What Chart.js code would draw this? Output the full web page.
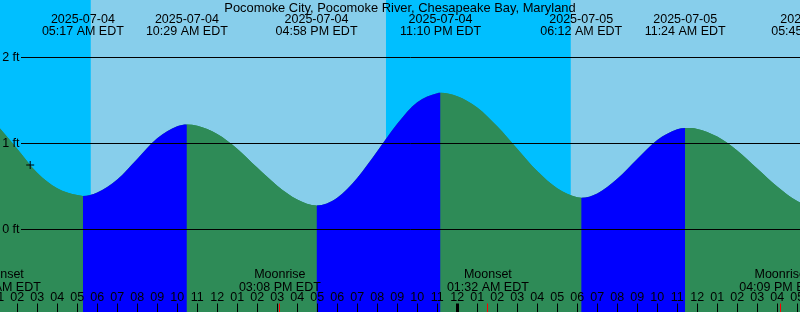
<!DOCTYPE html>
<html>
<head>
<meta charset="utf-8">
<title>Pocomoke City tides</title>
<script src="https://cdn.jsdelivr.net/npm/chart.js@4.4.1/dist/chart.umd.min.js"></script>
<style>
  html, body { margin: 0; padding: 0; background: #87ceeb; }
  canvas { display: block; background: #87ceeb; }
</style>
</head>
<body>
<canvas id="tide" width="800" height="312"></canvas>
<script>
// ---------------- Data (local time, EDT) ----------------
const station = "Pocomoke City, Pocomoke River, Chesapeake Bay, Maryland";

// high / low water
const extremeTimes = ["2025-07-04 05:17", "2025-07-04 10:29", "2025-07-04 16:58", "2025-07-04 23:10",
                      "2025-07-05 06:12", "2025-07-05 11:24", "2025-07-05 17:45"];
const extremeFeet = [0.39, 1.22, 0.28, 1.59, 0.37, 1.18, 0.27];

// curve, hours after 2025-07-04 00:00
const sampleHours = [0, 1, 2, 3, 4, 5, 6, 7, 8, 9, 10, 11, 12, 13, 14, 15, 16, 18, 19, 20,
                     21, 22, 23, 24, 25, 26, 27, 28, 29, 30, 31, 32, 33, 34, 35, 36, 37, 38, 39, 40, 41];
const sampleFeet = [1.45, 1.21, 0.94, 0.66, 0.48, 0.40, 0.43, 0.58, 0.82, 1.06, 1.20, 1.205, 1.11, 0.94, 0.72, 0.51, 0.35, 0.37, 0.60, 0.91,
                    1.23, 1.48, 1.585, 1.55, 1.42, 1.20, 0.94, 0.68, 0.48, 0.375, 0.42, 0.59, 0.82, 1.04, 1.165, 1.17, 1.08, 0.92, 0.71, 0.50, 0.33];

const sunsetTimes = ["2025-07-03 20:26", "2025-07-04 20:26"];
const sunriseTimes = ["2025-07-04 05:41", "2025-07-05 05:41"];

const moonEvents = ["Moonset", "Moonrise", "Moonset", "Moonrise"];
const moonTimes = ["2025-07-04 01:08", "2025-07-04 15:08", "2025-07-05 01:32", "2025-07-05 16:09"];

const nowTime = "2025-07-04 02:39";
const nowFeet = 0.75;

const levelTicks = [0, 1, 2];
const hourTicks = [1, 2, 3, 4, 5, 6, 7, 8, 9, 10, 11, 12, 13, 14, 15, 16, 17, 18, 19, 20, 21,
                   22, 23, 24, 25, 26, 27, 28, 29, 30, 31, 32, 33, 34, 35, 36, 37, 38, 39, 40, 41];

// ---------------- Helpers ----------------
const DAY0 = Date.UTC(2025, 6, 4);
const pad = n => String(n).padStart(2, "0");
const toHours = s => {
  const [d, t] = s.split(" ");
  const [Y, M, D] = d.split("-").map(Number);
  const [hh, mm] = t.split(":").map(Number);
  return (Date.UTC(Y, M - 1, D) - DAY0) / 3600000 + hh + mm / 60;
};
const clock = s => {
  const [hh, mm] = s.split(" ")[1].split(":").map(Number);
  return pad(hh % 12 || 12) + ":" + pad(mm) + (hh < 12 ? " AM" : " PM") + " EDT";
};

const W = 800, H = 312;
const xMin = 1.14, xMax = 41.14;          // 20 px per hour
const pxPerFoot = 86, zeroPx = 229.5;
const yMax = zeroPx / pxPerFoot, yMin = (zeroPx - H) / pxPerFoot;
const xAtPx = px => xMin + px * (xMax - xMin) / W;
const yAtPx = px => yMax - px / pxPerFoot;

const FONT = '"Liberation Sans", Arial, sans-serif';
const FONT_SIZE = 12.5;
const SKY_NIGHT = "#00bfff";
const RISING = "#0000ff";
const FALLING = "#2e8b57";

// center-positioned axes must not push the plot area inwards
const noPadding = s => {
  s.paddingLeft = s.paddingRight = s.paddingTop = s.paddingBottom = 0;
};

// ---------------- Datasets ----------------
const tidePoints = sampleHours.map((h, i) => ({ x: h, y: sampleFeet[i] }))
  .concat(extremeTimes.map((t, i) => ({ x: toHours(t), y: extremeFeet[i] })))
  .sort((a, b) => a.x - b.x);

const nights = sunriseTimes.map((t, i) => ({
  type: "line",
  order: 4,
  data: [{ x: toHours(sunsetTimes[i]), y: yMax }, { x: toHours(t), y: yMax }],
  borderColor: "rgba(0,0,0,0)",
  backgroundColor: SKY_NIGHT,
  fill: "start",
  pointRadius: 0
}));

const levelLines = levelTicks.map(v => ({
  type: "line",
  order: 0,
  data: [{ x: xAtPx(21), y: v }, { x: xMax, y: v }],
  borderColor: "#000",
  borderWidth: 1,
  pointRadius: 0,
  fill: false
}));

// rising water blue, falling water green
const tide = {
  type: "line",
  order: 2,
  data: tidePoints,
  cubicInterpolationMode: "monotone",
  borderColor: "rgba(0,0,0,0)",
  backgroundColor: FALLING,
  fill: "start",
  pointRadius: 0,
  segment: {
    backgroundColor: c => (c.p1.parsed.y >= c.p0.parsed.y ? RISING : FALLING)
  }
};

// same water body underneath, hides the seams where the colour flips
const tideUnder = {
  type: "line",
  order: 3,
  data: tidePoints,
  cubicInterpolationMode: "monotone",
  borderColor: "rgba(0,0,0,0)",
  backgroundColor: FALLING,
  fill: "start",
  pointRadius: 0
};

const nowMark = {
  type: "line",
  order: 0,
  data: [{ x: toHours(nowTime), y: nowFeet }],
  showLine: false,
  pointStyle: "cross",
  pointRadius: 4,
  borderColor: "#000",
  borderWidth: 1
};

// ---------------- Axes ----------------
const labelAxis = (yPx, lineHeight, ticksFn, labelFn) => ({
  type: "linear",
  axis: "x",
  min: xMin,
  max: xMax,
  position: { y: yAtPx(yPx) },
  grid: { display: false, drawTicks: false },
  border: { display: false },
  afterBuildTicks: s => { s.ticks = ticksFn().map(v => ({ value: v })); },
  afterFit: noPadding,
  ticks: {
    autoSkip: false,
    maxRotation: 0,
    padding: 0,
    color: "#000",
    z: 1,
    font: { family: FONT, size: FONT_SIZE, lineHeight: lineHeight },
    callback: labelFn
  }
});

const stationTitle = {
  id: "stationTitle",
  afterDraw(chart) {
    const ctx = chart.ctx;
    ctx.save();
    ctx.font = "12.9px " + FONT;
    ctx.fillStyle = "#000";
    ctx.textAlign = "center";
    ctx.textBaseline = "alphabetic";
    ctx.fillText(station, W / 2, 12);
    ctx.restore();
  }
};

new Chart(document.getElementById("tide"), {
  type: "line",
  data: { datasets: [...levelLines, nowMark, tide, tideUnder, ...nights] },
  options: {
    responsive: false,
    animation: false,
    devicePixelRatio: 1,
    events: [],
    layout: { padding: 0, autoPadding: false },
    plugins: {
      legend: { display: false },
      tooltip: { enabled: false }
    },
    scales: {
      x: { type: "linear", min: xMin, max: xMax, display: false },
      y: {
        type: "linear",
        min: yMin,
        max: yMax,
        position: { x: xAtPx(19.5) },
        grid: { display: false, drawTicks: false },
        border: { display: false },
        afterBuildTicks: s => { s.ticks = levelTicks.map(v => ({ value: v })); },
        afterFit: noPadding,
        ticks: {
          padding: 0,
          color: "#000",
          z: 1,
          font: { family: FONT, size: FONT_SIZE },
          callback: v => v + " ft"
        }
      },
      xTop: labelAxis(14, 0.95, () => extremeTimes.map(toHours),
        (v, i) => [extremeTimes[i].split(" ")[0], clock(extremeTimes[i])]),
      xMoon: labelAxis(268, 1.04, () => moonTimes.map(toHours),
        (v, i) => [moonEvents[i], clock(moonTimes[i])]),
      xHour: labelAxis(291.3, 1.04, () => hourTicks,
        v => pad(v % 12 || 12)),
      xMark: {
        type: "linear",
        axis: "x",
        min: xMin,
        max: xMax,
        position: { y: yMin },
        border: { display: false },
        afterBuildTicks: s => {
          s.ticks = hourTicks.concat(moonTimes.map(toHours)).sort((a, b) => a - b).map(v => ({ value: v }));
        },
        afterFit: noPadding,
        ticks: { display: false, autoSkip: false },
        grid: {
          drawOnChartArea: false,
          drawTicks: true,
          tickLength: -8.5,
          z: 1,
          color: c => (Number.isInteger(c.tick.value) ? "#000" : "#ff0000"),
          lineWidth: c => (c.tick.value % 24 === 0 ? 3 : 1)
        }
      }
    }
  },
  plugins: [stationTitle]
});
</script>
</body>
</html>
